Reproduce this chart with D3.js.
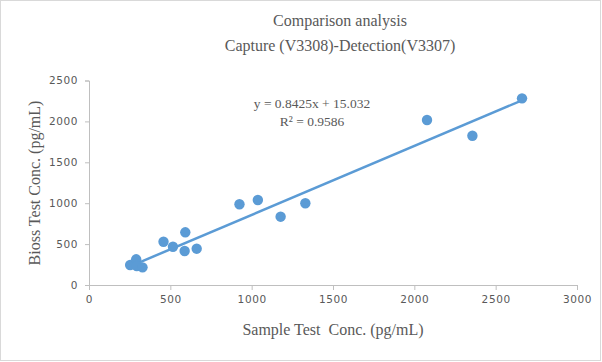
<!DOCTYPE html>
<html><head><meta charset="utf-8">
<script src="https://cdn.jsdelivr.net/npm/d3@7"></script>
<style>
html,body{margin:0;padding:0;background:#fff;}
svg{display:block;}
</style></head>
<body>
<script>
const titleLines = ["Comparison analysis", "Capture (V3308)-Detection(V3307)"];
const xLabel = "Sample Test  Conc. (pg/mL)";
const yLabel = "Bioss Test Conc. (pg/mL)";
const sampleX = [253, 290, 294, 329, 458, 516, 592, 588, 662, 925, 1038, 1178, 1330, 2078, 2357, 2662];
const biossY  = [244, 314, 232, 216, 529, 468, 644, 416, 444, 987, 1039, 835, 999, 2017, 1825, 2282];
const xTicks = [0, 500, 1000, 1500, 2000, 2500, 3000];
const yTicks = [0, 500, 1000, 1500, 2000, 2500];
const slope = 0.8425, intercept = 15.032;
const eqLines = ["y = 0.8425x + 15.032", "R² = 0.9586"];

const W = 602, H = 362;
const svg = d3.select("body").append("svg").attr("width", W).attr("height", H);
svg.append("rect").attr("x", 0.5).attr("y", 0.5).attr("width", 600).attr("height", 360)
  .attr("fill", "#fff").attr("stroke", "#d9d9d9");

const x = d3.scaleLinear().domain([0, 3000]).range([89, 577]);
const y = d3.scaleLinear().domain([0, 2500]).range([285, 80.5]);
const txt = "#595959", axisCol = "#bfbfbf", blue = "#5B9BD5";

const gx = svg.append("g").attr("transform", "translate(0,285)")
  .call(d3.axisBottom(x).tickValues(xTicks).tickSize(5).tickPadding(6).tickFormat(d3.format("d")));
const gy = svg.append("g").attr("transform", "translate(89,0)")
  .call(d3.axisLeft(y).tickValues(yTicks).tickSize(4).tickPadding(7).tickFormat(d3.format("d")));
[gx, gy].forEach(g => {
  g.selectAll("path,line").attr("stroke", axisCol);
  g.selectAll("text").attr("fill", txt).style("font-family", "DejaVu Sans").style("font-size", "10.5px")
   .style("letter-spacing", "0.6px");
});

const serif = "'Liberation Serif', 'Times New Roman', serif";
svg.append("text").attr("x", 340).attr("y", 26).attr("text-anchor", "middle")
  .style("font-family", serif).style("font-size", "16px").attr("fill", txt).text(titleLines[0]);
svg.append("text").attr("x", 340).attr("y", 51).attr("text-anchor", "middle")
  .style("font-family", serif).style("font-size", "16px").attr("fill", txt).text(titleLines[1]);

svg.append("text").attr("x", 333).attr("y", 335).attr("text-anchor", "middle")
  .style("font-family", serif).style("font-size", "16px").attr("fill", txt)
  .style("white-space", "pre").attr("xml:space", "preserve").text(xLabel);
svg.append("text").attr("transform", "translate(40,183) rotate(-90)").attr("text-anchor", "middle")
  .style("font-family", serif).style("font-size", "16px").attr("fill", txt).text(yLabel);

const xmin = d3.min(sampleX), xmax = d3.max(sampleX);
svg.append("line")
  .attr("x1", x(xmin)).attr("y1", y(slope * xmin + intercept))
  .attr("x2", x(xmax)).attr("y2", y(slope * xmax + intercept))
  .attr("stroke", blue).attr("stroke-width", 2.5);

svg.append("g").selectAll("circle").data(sampleX.map((v, i) => [v, biossY[i]])).join("circle")
  .attr("cx", d => x(d[0])).attr("cy", d => y(d[1])).attr("r", 5.2).attr("fill", blue);

svg.append("text").attr("x", 312).attr("y", 108).attr("text-anchor", "middle")
  .style("font-family", serif).style("font-size", "13.5px").attr("fill", txt).text(eqLines[0]);
svg.append("text").attr("x", 312).attr("y", 126).attr("text-anchor", "middle")
  .style("font-family", serif).style("font-size", "13.5px").attr("fill", txt).text(eqLines[1]);
</script>
</body></html>
